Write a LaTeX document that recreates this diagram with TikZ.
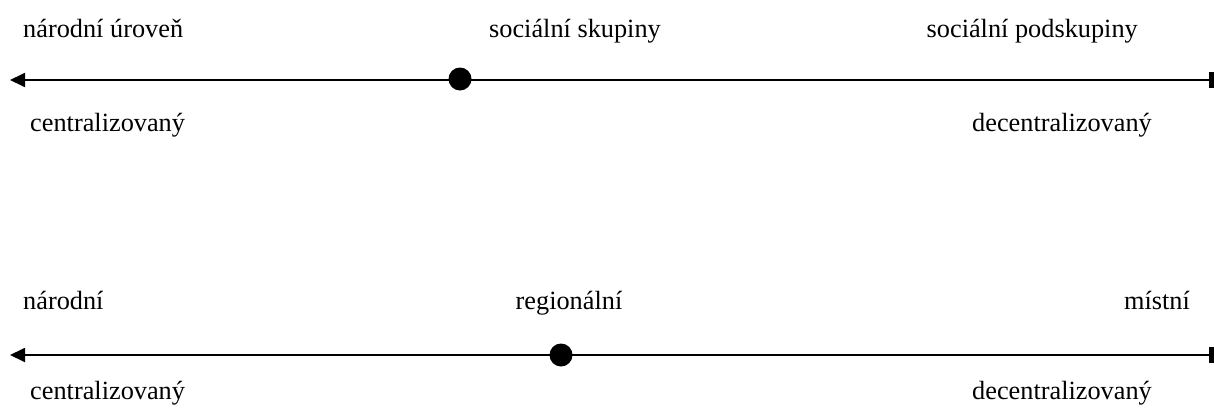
\documentclass[tikz,border=0pt]{standalone}
\usepackage{fontspec}
\setmainfont{Liberation Serif}
\usetikzlibrary{arrows.meta}
\begin{document}
\begin{tikzpicture}[x=1pt,y=-1pt,
  lbl/.style={inner sep=0pt,font=\fontsize{26.3}{30}\selectfont},
  axis/.style={line width=1.8pt,{Rectangle[length=4.5pt,width=16pt]}-{Triangle[length=15pt,width=14pt]}},
  dot/.style={circle,fill=black,inner sep=0pt,minimum size=23pt}]
\useasboundingbox (0,0) rectangle (1214,407);
% top scale
\coordinate (a1) at (1213.5,80);
\coordinate (b1) at (10,80);
\draw[axis] (a1) -- (b1);
\node[dot] (d1) at (460,79) {};
\node[lbl,anchor=base west] (t1) at (23,37) {národní úroveň};
\node[lbl,anchor=base] (t2) at (575,37) {sociální skupiny};
\node[lbl,anchor=base east] (t3) at (1138,37) {sociální podskupiny};
\node[lbl,anchor=base west] (t4) at (30,131) {centralizovaný};
\node[lbl,anchor=base east] (t5) at (1152,131) {decentralizovaný};
% bottom scale
\coordinate (a2) at (1213.5,355);
\coordinate (b2) at (10,355);
\draw[axis] (a2) -- (b2);
\node[dot] (d2) at (561,355) {};
\node[lbl,anchor=base west] (u1) at (23,309) {národní};
\node[lbl,anchor=base] (u2) at (569,309) {regionální};
\node[lbl,anchor=base east] (u3) at (1190,309) {místní};
\node[lbl,anchor=base west] (u4) at (30,399) {centralizovaný};
\node[lbl,anchor=base east] (u5) at (1152,399) {decentralizovaný};
\end{tikzpicture}
\end{document}
